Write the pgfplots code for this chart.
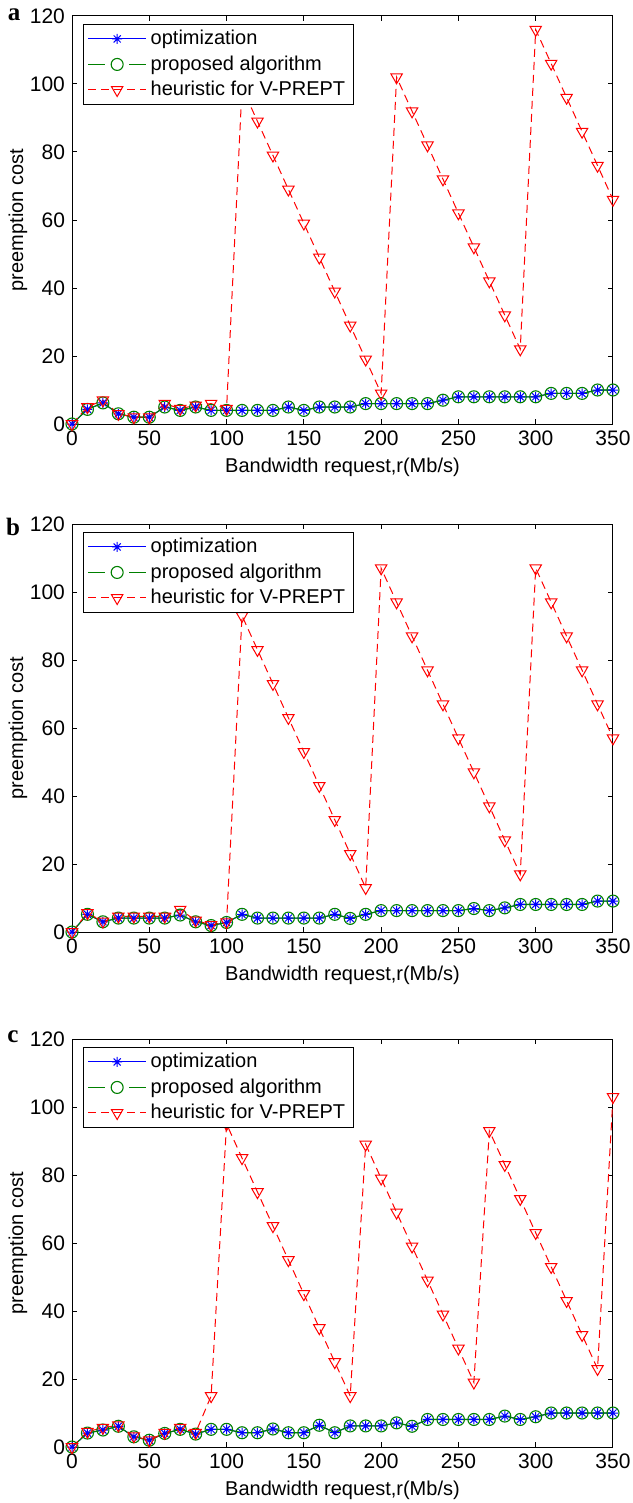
\documentclass[border=0pt]{standalone}
\usepackage{fontspec}
\setmainfont{Liberation Sans}
\newfontfamily\letterfont{Liberation Serif}
\usepackage{pgfplots}
\pgfplotsset{compat=1.18}
\usepackage{pgfplotstable}

\definecolor{mblue}{rgb}{0,0,1}
\definecolor{mgreen}{rgb}{0,0.5,0}
\definecolor{mred}{rgb}{1,0,0}

% matlab-like 8-armed asterisk
\pgfdeclareplotmark{star8}{%
  \pgfpathmoveto{\pgfqpoint{0pt}{\pgfplotmarksize}}%
  \pgfpathlineto{\pgfqpoint{0pt}{-\pgfplotmarksize}}%
  \pgfpathmoveto{\pgfqpoint{\pgfplotmarksize}{0pt}}%
  \pgfpathlineto{\pgfqpoint{-\pgfplotmarksize}{0pt}}%
  \pgfpathmoveto{\pgfqpoint{.707\pgfplotmarksize}{.707\pgfplotmarksize}}%
  \pgfpathlineto{\pgfqpoint{-.707\pgfplotmarksize}{-.707\pgfplotmarksize}}%
  \pgfpathmoveto{\pgfqpoint{-.707\pgfplotmarksize}{.707\pgfplotmarksize}}%
  \pgfpathlineto{\pgfqpoint{.707\pgfplotmarksize}{-.707\pgfplotmarksize}}%
  \pgfusepathqstroke}

% x, optimization (= proposed), heuristic
\pgfplotstableread{
x opt heur
0 0 0
10 4.3 5
20 6.2 7
30 3 3
40 2 2
50 2 2
60 5 6
70 4 4.5
80 5 5.5
90 4 6
100 4 4.5
110 4 99
120 4 89
130 4 79
140 5 69
150 4 59
160 5 49
170 5 39
180 5 29
190 6 19
200 6 9
210 6 102
220 6 92
230 6 82
240 7 72
250 8 62
260 8 52
270 8 42
280 8 32
290 8 22
300 8 116
310 9 106
320 9 96
330 9 86
340 10 76
350 10 66
}\dataA

\pgfplotstableread{
x opt heur
0 0 0
10 5.2 5.6
20 3 3.1
30 4.1 4.6
40 4.1 4.6
50 4.1 4.6
60 4.1 4.6
70 5 6.6
80 3 3.4
90 1.9 2.1
100 2.8 2.9
110 5.2 93
120 4.1 83
130 4.1 73
140 4.1 63
150 4.1 53
160 4.1 43
170 5.2 33
180 4 23
190 5.2 13
200 6.3 107
210 6.3 97
220 6.3 87
230 6.3 77
240 6.3 67
250 6.3 57
260 6.9 47
270 6.3 37
280 7.1 27
290 8.1 17
300 8.1 107
310 8.1 97
320 8.1 87
330 8.1 77
340 9.1 67
350 9.1 57
}\dataB

\pgfplotstableread{
x opt heur
0 0 0
10 4.1 4.5
20 5 5.7
30 6.1 6.4
40 3 3.2
50 2 2
60 4 4.2
70 5.2 5.7
80 3.8 4.2
90 5.2 15
100 5.2 95
110 4.2 85
120 4.2 75
130 5.3 65
140 4.2 55
150 4.2 45
160 6.4 35
170 4.2 25
180 6.2 15
190 6.2 89
200 6.2 79
210 7.1 69
220 6.1 59
230 8.1 49
240 8.1 39
250 8.1 29
260 8.1 19
270 8.1 93
280 9.1 83
290 8.1 73
300 8.9 63
310 10 53
320 10 43
330 10 33
340 10 23
350 10 103
}\dataC

\pgfplotsset{
  panel/.style={
    scale only axis, width=270.5pt, height=204pt,
    xmin=0, xmax=350, ymin=0, ymax=120,
    xtick={0,50,...,350}, ytick={0,20,...,120},
    tick align=inside, major tick length=2.7pt,
    axis line style={line width=0.5pt},
    every tick/.style={black, line width=0.5pt},
    tick label style={font=\fontsize{10.5}{12}\selectfont},
    /pgf/number format/assume math mode=true,
    xlabel={Bandwidth request,r(Mb/s)},
    ylabel={preemption cost},
    label style={font=\fontsize{10}{12}\selectfont},
    every axis x label/.style={at={(axis description cs:0.5,-0.105)}, anchor=center},
    every axis y label/.style={at={(axis description cs:-0.1,0.5)}, anchor=center, rotate=90},
    legend style={at={(0,1)}, anchor=north west, xshift=5.5pt, yshift=-3.8pt,
      draw=black, line width=0.6pt, fill=white,
      font=\fontsize{10}{12}\selectfont, legend cell align=left,
      inner xsep=2pt, inner ysep=1pt, row sep=0pt},
    legend image code/.code={\draw[mark repeat=2, mark phase=2, #1]
      plot coordinates {(0pt,0pt) (14.5pt,0pt) (29pt,0pt)};},
  },
  optline/.style={color=mblue, line width=0.5pt, mark=star8, mark size=2.5pt, mark options={solid}},
  propline/.style={color=mgreen, line width=0.55pt, mark=o, mark size=3pt, mark options={solid},
    legend image post style={dash pattern=on 8.5pt off 12pt}},
  heurline/.style={color=mred, line width=0.5pt, dash pattern=on 4pt off 2.5pt,
    mark=triangle, mark size=3.3pt, mark options={solid, rotate=180}},
}

\begin{document}
\begin{tikzpicture}
\path[use as bounding box] (0,0) rectangle (316pt,-751.5pt);

\begin{axis}[panel, at={(36pt,-212pt)}, anchor=south west]
  \addplot[optline] table[x=x, y=opt] {\dataA};
  \addplot[propline] table[x=x, y=opt] {\dataA};
  \addplot[heurline] table[x=x, y=heur] {\dataA};
  \legend{optimization, proposed algorithm, heuristic for V-PREPT}
\end{axis}

\begin{axis}[panel, at={(36pt,-466pt)}, anchor=south west]
  \addplot[optline] table[x=x, y=opt] {\dataB};
  \addplot[propline] table[x=x, y=opt] {\dataB};
  \addplot[heurline] table[x=x, y=heur] {\dataB};
  \legend{optimization, proposed algorithm, heuristic for V-PREPT}
\end{axis}

\begin{axis}[panel, at={(36pt,-723.5pt)}, anchor=south west]
  \addplot[optline] table[x=x, y=opt] {\dataC};
  \addplot[propline] table[x=x, y=opt] {\dataC};
  \addplot[heurline] table[x=x, y=heur] {\dataC};
  \legend{optimization, proposed algorithm, heuristic for V-PREPT}
\end{axis}

\node[font=\letterfont\bfseries\fontsize{12.5}{14}\selectfont, anchor=base] at (7pt,-10.5pt) {a};
\node[font=\letterfont\bfseries\fontsize{12.5}{14}\selectfont, anchor=base] at (6.5pt,-267.5pt) {b};
\node[font=\letterfont\bfseries\fontsize{12.5}{14}\selectfont, anchor=base] at (6.5pt,-521pt) {c};
\end{tikzpicture}
\end{document}
